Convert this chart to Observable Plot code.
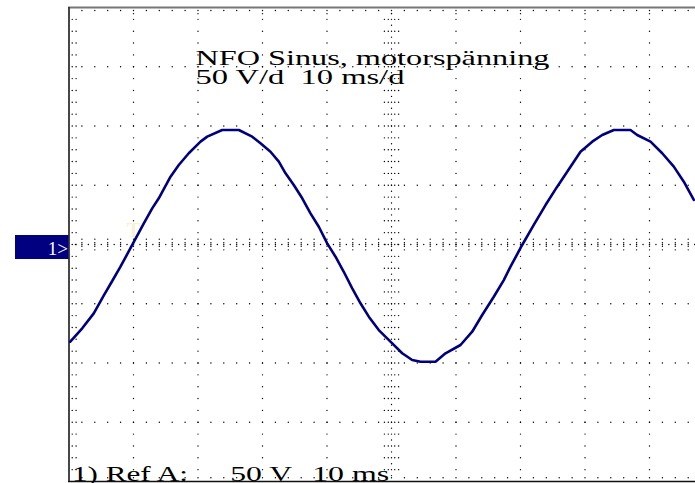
<!DOCTYPE html>
<html>
<head>
<meta charset="utf-8">
<script src="https://cdn.jsdelivr.net/npm/d3@7"></script>
<script src="https://cdn.jsdelivr.net/npm/@observablehq/plot@0.6"></script>
<style>
  html, body { margin: 0; padding: 0; background: #fff; }
  #chart svg { display: block; }
</style>
</head>
<body>
<div id="chart"></div>
<script>
// ---- data (time in ms, voltage in V) ----
const traceTime = [0.2, 2.05, 3.84, 5.40, 6.70, 7.98, 9.80, 11.60, 12.90, 13.92, 15.74, 17.02, 18.57, 20.39, 21.43, 23.75, 26.33,
  28.40, 29.69, 31.24, 32.53, 33.57, 34.85, 36.16, 37.44, 38.73, 40.03, 41.32, 42.60, 43.91, 45.19, 46.48, 48.03, 49.84,
  51.66, 53.21, 54.50, 56.82, 58.37, 60.70, 62.51, 64.06, 65.86, 67.41, 68.45, 70.26, 72.06, 73.88, 75.69, 77.24, 79.30,
  81.12, 82.67, 84.47, 87.05, 88.09, 90.16, 91.97, 93.77, 95.32, 96.87];
const traceVolt = [-82.0, -70.7, -58.1, -43.0, -30.8, -18.7, -0.4, 17.9, 30.5, 39.0, 57.2, 67.1, 77.0, 86.8, 91.0, 96.6, 96.6,
  91.0, 85.4, 78.3, 69.9, 60.1, 50.2, 39.0, 26.3, 15.0, 1.0, -10.3, -23.0, -37.0, -49.6, -60.9, -72.2, -82.0,
  -91.8, -97.5, -98.9, -98.9, -91.8, -84.8, -73.6, -59.5, -44.1, -30.0, -18.7, -0.4, 16.5, 33.3, 48.8, 61.4, 78.3,
  86.8, 92.4, 96.6, 96.6, 92.4, 86.8, 77.0, 65.7, 53.0, 37.6];

const titleText = "NFO Sinus, motorspänning\n50 V/d  10 ms/d";
const footer = ["1) Ref A:", "50 V", "10 ms"];
const channelLabel = "1>";
const triggerLabel = "T";

// scope settings: 10 ms / div horizontally, 50 V / div vertically
const timeDomain = [0, 100];
const voltDomain = [-200, 200];
const timeMajor = [10, 20, 30, 40, 60, 70, 80, 90];
const voltMajor = [-150, -100, -50, 50, 100, 150];

const trace = traceTime.map((t, i) => ({t, v: traceVolt[i]}));

// ---- graticule dots (styling) ----
const xMinor = d3.range(0, 100.001, 2);
const yMinor = d3.range(-200, 200.001, 10);
const grid = [];
for (const v of voltMajor) for (const t of xMinor) if (t > 0) grid.push({t, v});
for (const t of timeMajor) for (const v of yMinor) if (Math.abs(v) < 200) grid.push({t, v});
// centre horizontal axis
for (const t of d3.range(1, 100, 1)) grid.push({t, v: 0});
for (const t of xMinor) if (t > 0) for (const dv of [-4.5, -1.5, 1.5, 4.5]) grid.push({t, v: dv});
// centre vertical axis
for (const v of d3.range(-195, 200, 5)) grid.push({t: 50, v});
for (const v of yMinor) if (Math.abs(v) < 200) for (const dt of [-1.1, -0.5, 0.5, 1.1]) grid.push({t: 50 + dt, v});
// border ticks
for (const v of yMinor) if (Math.abs(v) < 200) { grid.push({t: 0.5, v}); grid.push({t: 1.1, v}); }
for (const t of xMinor) if (t > 0) { grid.push({t, v: 197.5}); grid.push({t, v: -196.8}); }
for (const t of d3.range(0, 100.001, 10)) if (t > 0) grid.push({t, v: 194.8});

const navy = "#00007f";
const serif = "Liberation Serif, Times New Roman, serif";

// channel marker drawn in the left margin at the channel's 0 V level
function channelMarker(index, scales, values, dimensions) {
  const g = d3.create("svg:g");
  const x0 = scales.x(0), y0 = scales.y(0);
  g.append("rect").attr("x", 15).attr("y", y0 - 9).attr("width", x0 - 15).attr("height", 24).attr("fill", "#000080");
  g.append("text").attr("x", x0 - 0.5).attr("y", y0 + 11).attr("text-anchor", "end")
    .style("font-family", serif).style("font-size", "19px").attr("fill", "#fff").text(channelLabel);
  return g.node();
}

const chart = Plot.plot({
  width: 695,
  height: 483,
  marginLeft: 68,
  marginTop: 7,
  marginRight: 0,
  marginBottom: 2,
  style: {background: "#fff", overflow: "visible"},
  x: {domain: timeDomain, range: [68.5, 713.5], axis: null},
  y: {domain: voltDomain, range: [481, 7], axis: null},
  marks: [
    Plot.dot(grid, {x: "t", y: "v", r: 0.7, fill: "#000", stroke: null}),
    Plot.ruleY([voltDomain[1]], {stroke: "#777", strokeWidth: 2}),
    Plot.ruleY([voltDomain[0]], {stroke: "#111", strokeWidth: 1.5}),
    Plot.ruleX([timeDomain[0]], {stroke: "#333", strokeWidth: 1.8}),
    Plot.text([triggerLabel], {x: 10, y: 6, text: d => d, fontFamily: serif, fontSize: 20, fontWeight: "bold",
      fill: "#f7f2d6", lineAnchor: "bottom", textAnchor: "middle"}),
    Plot.line(trace, {x: "t", y: "v", stroke: navy, strokeWidth: 2.6, strokeLinejoin: "miter"}),
    Plot.text([titleText], {x: 19.6, y: 150, text: d => d, fontFamily: serif, fontSize: 22, fill: "#000",
      textAnchor: "start", lineAnchor: "top", lineHeight: 0.87, dy: -15, className: "t-title"}),
    Plot.text([footer[0]], {x: 0.45, y: -200, text: d => d, fontFamily: serif, fontSize: 20, fill: "#000",
      textAnchor: "start", lineAnchor: "bottom", dy: -1, className: "t-foot0"}),
    Plot.text([footer[1]], {x: 25.0, y: -200, text: d => d, fontFamily: serif, fontSize: 20, fill: "#000",
      textAnchor: "start", lineAnchor: "bottom", dy: -1, className: "t-foot1"}),
    Plot.text([footer[2]], {x: 37.7, y: -200, text: d => d, fontFamily: serif, fontSize: 20, fill: "#000",
      textAnchor: "start", lineAnchor: "bottom", dy: -1, className: "t-foot2"}),
    channelMarker
  ]
});

// horizontally stretched lettering, as on the scope print-out
const stretch = {"t-foot0": 116, "t-foot1": 62, "t-foot2": 77};
for (const [cls, len] of Object.entries(stretch)) {
  d3.select(chart).selectAll("g." + cls + " text")
    .attr("textLength", len).attr("lengthAdjust", "spacingAndGlyphs");
}
const titleLens = [354, 209];
d3.select(chart).selectAll("g.t-title text tspan").each(function(d, i) {
  d3.select(this).attr("textLength", titleLens[i]).attr("lengthAdjust", "spacingAndGlyphs");
});

document.getElementById("chart").appendChild(chart);
</script>
</body>
</html>
